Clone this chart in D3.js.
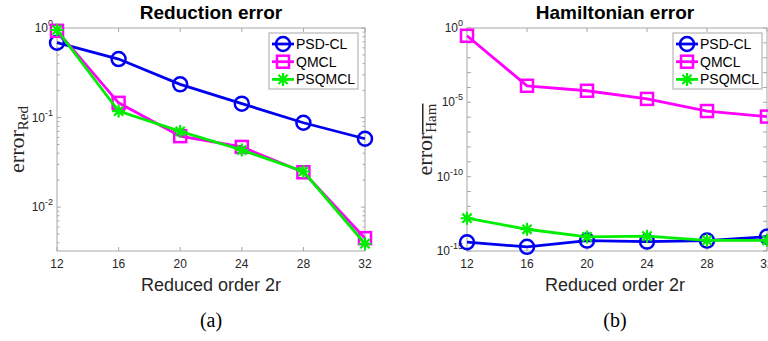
<!DOCTYPE html>
<html>
<head>
<meta charset="utf-8">
<script src="https://cdn.jsdelivr.net/npm/d3@7"></script>
<style>
  body { margin: 0; background: #fff; }
  text { font-family: "Liberation Sans", Arial, sans-serif; }
</style>
</head>
<body>
<div id="chart"></div>
<script>
// data
var orders = [12, 16, 20, 24, 28, 32]
var xTicks = [12, 16, 20, 24, 28, 32]
var seriesNames = ["PSD-CL", "QMCL", "PSQMCL"]

var redPSD = [0.685, 0.45, 0.235, 0.143, 0.0875, 0.058]
var redQM = [0.93, 0.146, 0.062, 0.047, 0.0245, 0.0045]
var redPSQM = [0.95, 0.118, 0.07, 0.0434, 0.025, 0.0039]

var hamPSD = [3.9e-15, 1.9e-15, 5e-15, 4.3e-15, 5e-15, 9.3e-15]
var hamQM = [0.3, 1.3e-4, 6e-5, 1.7e-5, 2.6e-6, 1.1e-6]
var hamPSQM = [1.6e-13, 2.9e-14, 8.9e-15, 1e-14, 5.2e-15, 5.2e-15]

var redTicks = [-2, -1, 0]
var hamTicks = [-15, -10, -5, 0]

var colors = {"PSD-CL": "#0000f0", "QMCL": "#ff00ff", "PSQMCL": "#00ee00"}
var markers = {"PSD-CL": "circle", "QMCL": "square", "PSQMCL": "star"}

var width = 768, height = 341

var svg = d3.select("#chart")
  .append("svg")
    .attr("width", width)
    .attr("height", height)

function drawMarker(g, type, color) {
  if (type == "circle") {
    g.append("circle").attr("r", 7)
      .attr("fill", "none").attr("stroke", color).attr("stroke-width", 2.5)
  } else if (type == "square") {
    g.append("rect").attr("x", -6).attr("y", -6).attr("width", 12).attr("height", 12)
      .attr("fill", "none").attr("stroke", color).attr("stroke-width", 2.5)
  } else {
    var r = 6.5
    var d = ""
    for (var i = 0; i < 4; i++) {
      var a = i * Math.PI / 4
      d += "M" + (-r * Math.cos(a)) + "," + (-r * Math.sin(a)) + "L" + (r * Math.cos(a)) + "," + (r * Math.sin(a))
    }
    g.append("path").attr("d", d).attr("stroke", color).attr("stroke-width", 2.2)
  }
}

function drawPanel(p) {
  var x = d3.scaleLinear().domain([12, 32]).range([p.left, p.right])
  var y = d3.scaleLog().domain(p.ydomain).range([p.bottom, p.top])
  var g = svg.append("g")
  var axisColor = "#a8a8a8"
  var tl = 4

  // box
  g.append("rect")
    .attr("x", p.left).attr("y", p.top)
    .attr("width", p.right - p.left).attr("height", p.bottom - p.top)
    .attr("fill", "none").attr("stroke", axisColor).attr("stroke-width", 1)

  // x ticks
  xTicks.forEach(function(t) {
    var xx = x(t)
    g.append("line").attr("x1", xx).attr("x2", xx).attr("y1", p.bottom).attr("y2", p.bottom - tl)
      .attr("stroke", axisColor)
    g.append("line").attr("x1", xx).attr("x2", xx).attr("y1", p.top).attr("y2", p.top + tl)
      .attr("stroke", axisColor)
    g.append("text").attr("x", xx).attr("y", p.bottom + 17)
      .attr("text-anchor", "middle").attr("font-size", 12).attr("fill", "#262626")
      .text(t)
  })

  // y ticks
  var lo = Math.floor(Math.log10(p.ydomain[0])), hi = Math.ceil(Math.log10(p.ydomain[1]))
  for (var k = lo; k <= hi; k++) {
    var v = Math.pow(10, k)
    if (v >= p.ydomain[0] * 0.999 && v <= p.ydomain[1] * 1.001) {
      var yy = y(v)
      g.append("line").attr("x1", p.left).attr("x2", p.left + tl).attr("y1", yy).attr("y2", yy).attr("stroke", axisColor)
      g.append("line").attr("x1", p.right).attr("x2", p.right - tl).attr("y1", yy).attr("y2", yy).attr("stroke", axisColor)
    }
    if (p.minor) {
      for (var m = 2; m <= 9; m++) {
        var mv = m * v
        if (mv < p.ydomain[0] || mv > p.ydomain[1]) continue
        var my = y(mv)
        g.append("line").attr("x1", p.left).attr("x2", p.left + 2.5).attr("y1", my).attr("y2", my).attr("stroke", axisColor)
        g.append("line").attr("x1", p.right).attr("x2", p.right - 2.5).attr("y1", my).attr("y2", my).attr("stroke", axisColor)
      }
    }
  }
  p.yticks.forEach(function(k) {
    var yy = y(Math.pow(10, k))
    var t = g.append("text").attr("x", p.left - 4).attr("y", yy + 4)
      .attr("text-anchor", "end").attr("font-size", 12).attr("fill", "#262626")
    t.append("tspan").text("10")
    t.append("tspan").attr("dy", -6).attr("font-size", 9).text(k)
  })

  // series
  p.series.forEach(function(s) {
    var pts = orders.map(function(o, i) { return [x(o), y(s.values[i])] })
    g.append("path")
      .attr("d", d3.line()(pts))
      .attr("fill", "none").attr("stroke", colors[s.name]).attr("stroke-width", 2.8)
    pts.forEach(function(pt) {
      drawMarker(g.append("g").attr("transform", "translate(" + pt + ")"), markers[s.name], colors[s.name])
    })
  })

  // legend
  var lg = g.append("g")
  lg.append("rect").attr("x", p.legendX).attr("y", 33).attr("width", 89).attr("height", 56)
    .attr("fill", "#fff").attr("stroke", "#a8a8a8")
  seriesNames.forEach(function(n, i) {
    var ly = 44 + i * 17.7
    lg.append("line").attr("x1", p.legendX + 3).attr("x2", p.legendX + 25).attr("y1", ly).attr("y2", ly)
      .attr("stroke", colors[n]).attr("stroke-width", 2.8)
    drawMarker(lg.append("g").attr("transform", "translate(" + (p.legendX + 14) + "," + ly + ")"), markers[n], colors[n])
    lg.append("text").attr("x", p.legendX + 27).attr("y", ly + 5)
      .attr("font-size", 14).attr("fill", "#000").text(n)
  })

  // titles
  g.append("text").attr("x", p.titleX).attr("y", 19)
    .attr("text-anchor", "middle").attr("font-size", 19).attr("font-weight", "bold")
    .text(p.title)
  g.append("text").attr("x", p.titleX).attr("y", 291)
    .attr("text-anchor", "middle").attr("font-size", 18).attr("fill", "#262626")
    .text("Reduced order 2r")
  g.append("text").attr("x", p.titleX).attr("y", 327)
    .attr("text-anchor", "middle").attr("font-size", 20)
    .style("font-family", "'Liberation Serif', 'Times New Roman', serif")
    .text(p.caption)

  // y label
  var yl = g.append("text")
    .attr("transform", "translate(" + p.ylabelX + "," + ((p.top + p.bottom) / 2) + ") rotate(-90)")
    .attr("text-anchor", "middle").attr("font-size", 22).attr("fill", "#262626")
    .style("font-family", "'Liberation Serif', 'Times New Roman', serif")
  yl.append("tspan").text("error")
  var sub = yl.append("tspan").attr("dy", 4).attr("font-size", 15).text(p.ysub)
  if (p.overline) sub.style("text-decoration", "overline")
}

drawPanel({
  left: 57, right: 365, top: 28, bottom: 251,
  ydomain: [Math.pow(10, -2.49), 1], yticks: redTicks, minor: true,
  series: [{name: "PSD-CL", values: redPSD}, {name: "QMCL", values: redQM}, {name: "PSQMCL", values: redPSQM}],
  legendX: 269, title: "Reduction error", caption: "(a)", titleX: 211,
  ylabelX: 24, ysub: "Red", overline: false
})

drawPanel({
  left: 467, right: 767, top: 28, bottom: 251,
  ydomain: [1e-15, 1], yticks: hamTicks, minor: false,
  series: [{name: "PSD-CL", values: hamPSD}, {name: "QMCL", values: hamQM}, {name: "PSQMCL", values: hamPSQM}],
  legendX: 673, title: "Hamiltonian error", caption: "(b)", titleX: 615,
  ylabelX: 432, ysub: "Ham", overline: true
})
</script>
</body>
</html>
